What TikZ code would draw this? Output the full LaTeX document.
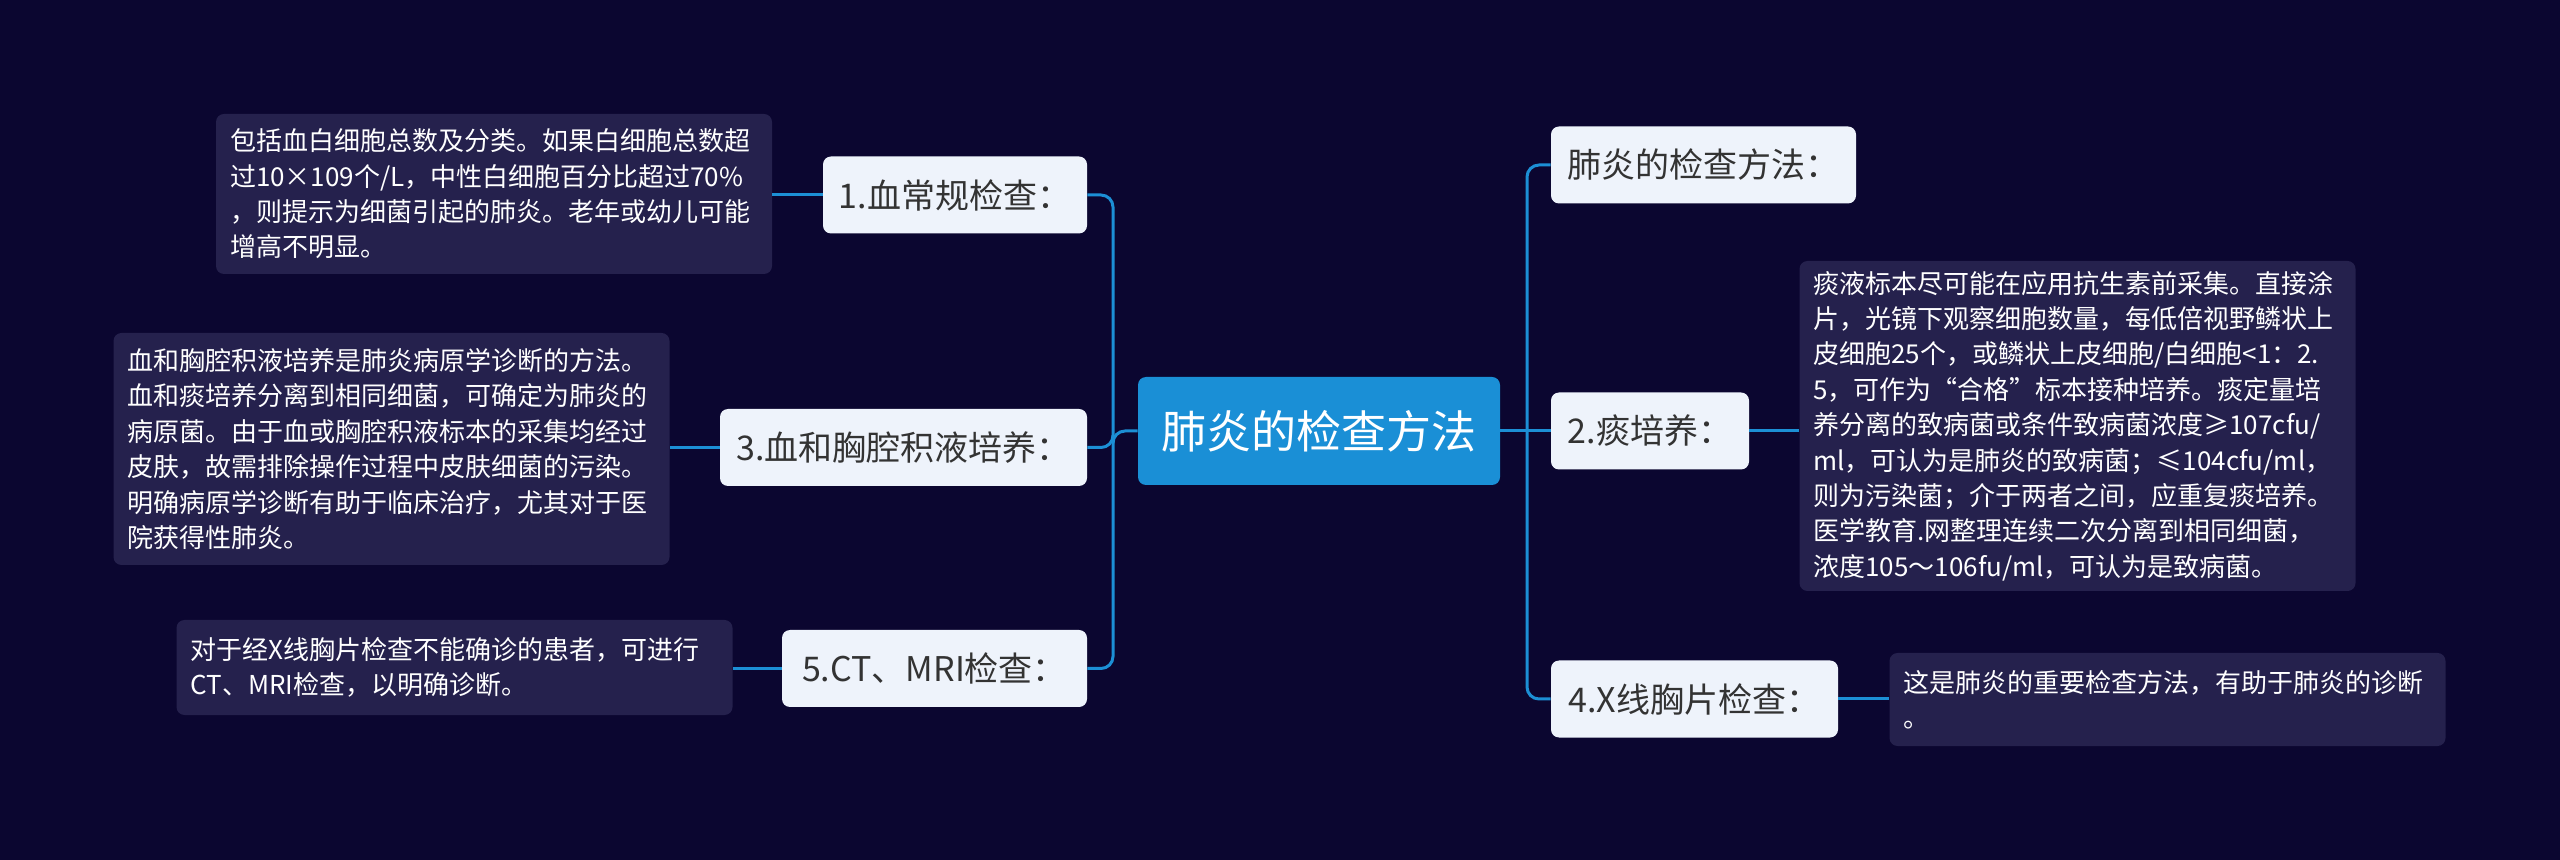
\documentclass[tikz,border=0pt]{standalone}
\usepackage{fontspec}
\setmainfont{Noto Sans CJK SC}
\usepackage{xcolor}
\definecolor{bgnavy}{HTML}{0B0630}
\definecolor{rootblue}{HTML}{1A8FD6}
\definecolor{linkblue}{HTML}{1C8FD5}
\definecolor{subfill}{HTML}{EEF3FB}
\definecolor{subtext}{HTML}{333333}
\definecolor{notefill}{HTML}{25214D}

\begin{document}
\begin{tikzpicture}[x=0.5pt,y=-0.5pt,
  topic/.style={fill=rootblue,text=white,rounded corners=4pt,inner sep=0pt,
    font=\fontsize{22.5}{27}\selectfont,minimum width=181pt,minimum height=54pt},
  subtopic/.style={fill=subfill,text=subtext,rounded corners=4pt,inner sep=0pt,
    font=\fontsize{17}{20}\selectfont,minimum height=38.5pt},
  note/.style={fill=notefill,text=white,rounded corners=4pt,align=left,
    font=\fontsize{13}{17.7}\selectfont,text width=264pt,inner xsep=7pt,inner ysep=0pt},
  link/.style={draw=linkblue,line width=1.5pt,rounded corners=6pt}]
  \useasboundingbox (0,0) rectangle (2560,860);
  \fill[bgnavy] (0,0) rectangle (2560,860);

  % centre
  \node[topic] (root) at (1319,431) {肺炎的检查方法};

  % right branch
  \node[subtopic,minimum width=152.5pt] (n0) at (1703.5,165) {肺炎的检查方法：};
  \node[subtopic,minimum width=99pt] (n2) at (1650,431) {2.痰培养：};
  \node[subtopic,minimum width=143.5pt] (n4) at (1694.5,699) {4.X线胸片检查：};
  \node[note,minimum height=165pt] (d2) at (2077.5,426)
    {痰液标本尽可能在应用抗生素前采集。直接涂\\
     片，光镜下观察细胞数量，每低倍视野鳞状上\\
     皮细胞25个，或鳞状上皮细胞/白细胞<1：2.\\
     5，可作为“合格”标本接种培养。痰定量培\\
     养分离的致病菌或条件致病菌浓度≥107cfu/\\
     ml，可认为是肺炎的致病菌；≤104cfu/ml，\\
     则为污染菌；介于两者之间，应重复痰培养。\\
     医学教育.网整理连续二次分离到相同细菌，\\
     浓度105～106fu/ml，可认为是致病菌。};
  \node[note,minimum height=46.5pt] (d4) at (2167.5,699.5)
    {这是肺炎的重要检查方法，有助于肺炎的诊断\\
     。};

  % left branch
  \node[subtopic,minimum width=132pt] (n1) at (955,195) {1.血常规检查：};
  \node[subtopic,minimum width=183.5pt] (n3) at (903.5,447.5) {3.血和胸腔积液培养：};
  \node[subtopic,minimum width=152.5pt] (n5) at (934.5,668.5) {5.CT、MRI检查：};
  \node[note,minimum height=80pt] (d1) at (494,194)
    {包括血白细胞总数及分类。如果白细胞总数超\\
     过10×109个/L，中性白细胞百分比超过70\%\\
     ，则提示为细菌引起的肺炎。老年或幼儿可能\\
     增高不明显。};
  \node[note,minimum height=116pt] (d3) at (391.5,449)
    {血和胸腔积液培养是肺炎病原学诊断的方法。\\
     血和痰培养分离到相同细菌，可确定为肺炎的\\
     病原菌。由于血或胸腔积液标本的采集均经过\\
     皮肤，故需排除操作过程中皮肤细菌的污染。\\
     明确病原学诊断有助于临床治疗，尤其对于医\\
     院获得性肺炎。};
  \node[note,minimum height=47.5pt] (d5) at (454.5,667.5)
    {对于经X线胸片检查不能确诊的患者，可进行\\
     CT、MRI检查，以明确诊断。};

  % connectors
  \coordinate (rjoin) at (1527,431);
  \coordinate (ljoin) at (1113,431);
  \draw[link] (n0.west) -| (rjoin) |- (n4.west);
  \draw[link] (root.east) -- (n2.west);
  \draw[link] (n1.east) -| (ljoin) |- (n5.east);
  \draw[link] (root.west) -- (ljoin) |- (n3.east);
  \draw[link] (n2.east) -- (n2.east -| d2.west);
  \draw[link] (n4.east) -- (n4.east -| d4.west);
  \draw[link] (n1.west) -- (n1.west -| d1.east);
  \draw[link] (n3.west) -- (n3.west -| d3.east);
  \draw[link] (n5.west) -- (n5.west -| d5.east);
\end{tikzpicture}
\end{document}
